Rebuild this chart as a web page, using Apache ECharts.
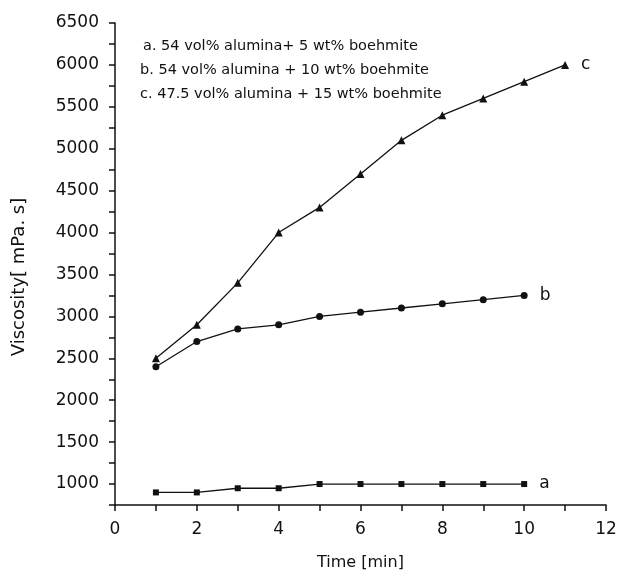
<!DOCTYPE html>
<html><head><meta charset="utf-8">
<script src="https://cdn.jsdelivr.net/npm/echarts@6/dist/echarts.min.js"></script>
<style>html,body{margin:0;padding:0;background:#fff}#c{width:619px;height:570px}</style>
</head><body><div id="c"></div>
<script>
const timeA = [1,2,3,4,5,6,7,8,9,10];
const viscA = [900,900,950,950,1000,1000,1000,1000,1000,1000];
const timeB = [1,2,3,4,5,6,7,8,9,10];
const viscB = [2400,2700,2850,2900,3000,3050,3100,3150,3200,3250];
const timeC = [1,2,3,4,5,6,7,8,9,10,11];
const viscC = [2500,2900,3400,4000,4300,4700,5100,5400,5600,5800,6000];
const legendLines = [
  'a. 54 vol% alumina+ 5 wt% boehmite',
  'b. 54 vol% alumina + 10 wt% boehmite',
  'c. 47.5 vol% alumina + 15 wt% boehmite'
];
const seriesNames = ['a','b','c'];
const yTitle = 'Viscosity[ mPa. s]';
const xTitle = 'Time [min]';

const font = '"DejaVu Sans", sans-serif';
const chart = echarts.init(document.getElementById('c'));
function mk(xs, ys, name, symbol, size){
  const data = xs.map((x,i)=>{
    const p = {value:[x, ys[i]]};
    if(i===xs.length-1){
      p.label = {show:true, formatter:name, position:'right', distance:12, fontSize:17, color:'#111', fontFamily:font};
    }
    return p;
  });
  return {type:'line', name, data, symbol, symbolSize:size, showSymbol:true,
    lineStyle:{color:'#111', width:1.3}, itemStyle:{color:'#111'}, animation:false};
}
const graphics = legendLines.map((t,i)=>({type:'text', left:[143,140,140][i], top:39+i*24,
    style:{text:t, font:'14.5px '+font, fill:'#111'}}));
graphics.push({type:'text', x:19, y:277, rotation:Math.PI/2,
  style:{text:yTitle, font:'18px '+font, fill:'#111', align:'center', verticalAlign:'middle'}});
chart.setOption({
  animation:false,
  grid:{left:115, right:13, top:23, bottom:65, containLabel:false, outerBoundsMode:'none'},
  xAxis:{type:'value', min:0, max:12, interval:1,
    name:xTitle, nameLocation:'middle', nameGap:50,
    nameTextStyle:{fontSize:16, color:'#111', fontFamily:font},
    axisLine:{lineStyle:{color:'#111', width:1.5}},
    axisTick:{length:6, lineStyle:{color:'#111', width:1.5}},
    axisLabel:{fontSize:17, color:'#111', fontFamily:font, margin:16,
      formatter:v=> (v%2===0 ? String(v) : '')},
    splitLine:{show:false}},
  yAxis:{type:'value', min:750, max:6500, interval:250,
    axisLine:{show:true, lineStyle:{color:'#111', width:1.5}},
    axisTick:{show:true, length:6, lineStyle:{color:'#111', width:1.5}},
    axisLabel:{fontSize:17, color:'#111', fontFamily:font, margin:16,
      formatter:v=> (v%500===0 ? String(v) : '')},
    splitLine:{show:false}},
  graphic:graphics,
  series:[
    mk(timeA, viscA, seriesNames[0], 'rect', 6),
    mk(timeB, viscB, seriesNames[1], 'circle', 7),
    mk(timeC, viscC, seriesNames[2], 'triangle', 8)
  ]
});
</script></body></html>
